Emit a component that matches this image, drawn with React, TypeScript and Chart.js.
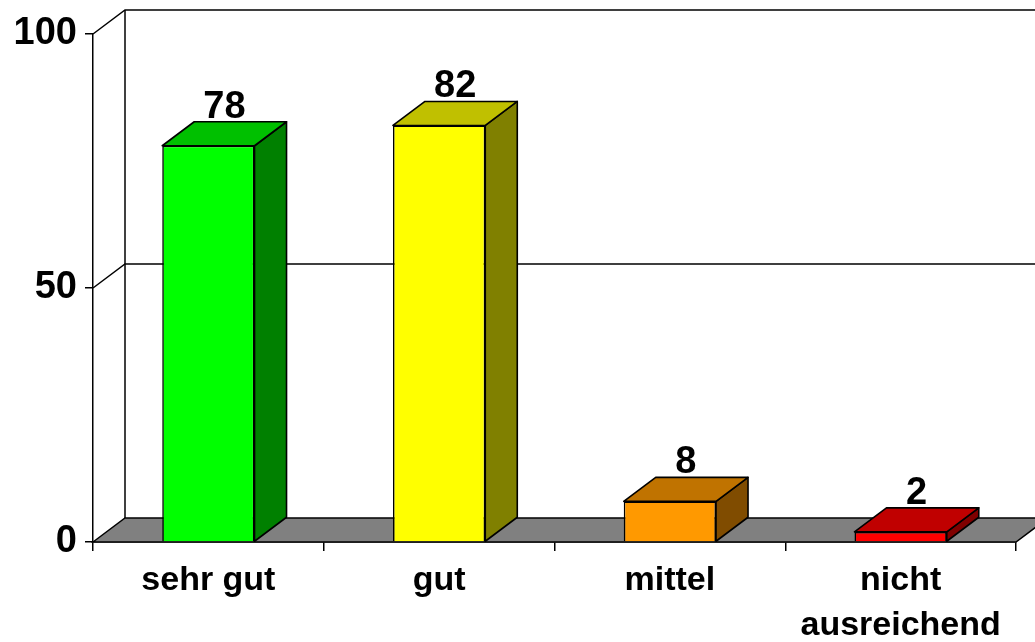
import React, { useEffect, useRef } from "react";
import { Chart, registerables } from "chart.js";

Chart.register(...registerables);

const categories: (string | string[])[] = ["sehr gut", "gut", "mittel", ["nicht", "ausreichend"]];
const values: number[] = [78, 82, 8, 2];
const frontColors: string[] = ["#00FF00", "#FFFF00", "#FF9900", "#FF0000"];
const topColors: string[] = ["#00C000", "#C0C000", "#C07300", "#C00000"];
const sideColors: string[] = ["#008000", "#808000", "#804C00", "#800000"];
const yTicks: number[] = [0, 50, 100];
const backGridValues: number[] = [50, 100];

const DX = 32;
const DY = 24;
const FONT = 'Arial, "Liberation Sans", sans-serif';

const threeD = {
  id: "threeD",
  beforeDatasetsDraw(chart: any) {
    const { ctx, chartArea, scales } = chart;
    const ys = scales.y;
    const L = chartArea.left;
    const R = chartArea.right;
    const B = ys.getPixelForValue(0);
    ctx.save();
    ctx.strokeStyle = "#000";
    ctx.lineWidth = 1.5;
    for (const v of backGridValues) {
      const py = ys.getPixelForValue(v);
      ctx.beginPath();
      ctx.moveTo(L, py);
      ctx.lineTo(L + DX, py - DY);
      ctx.lineTo(R + DX + 40, py - DY);
      ctx.stroke();
    }
    ctx.beginPath();
    ctx.moveTo(L + DX, ys.getPixelForValue(100) - DY);
    ctx.lineTo(L + DX, B - DY);
    ctx.stroke();
    // floor
    ctx.beginPath();
    ctx.moveTo(L, B);
    ctx.lineTo(L + DX, B - DY);
    ctx.lineTo(R + DX, B - DY);
    ctx.lineTo(R, B);
    ctx.closePath();
    ctx.fillStyle = "#808080";
    ctx.fill();
    ctx.stroke();
    ctx.restore();
  },
  afterDatasetsDraw(chart: any) {
    const { ctx } = chart;
    const meta = chart.getDatasetMeta(0);
    ctx.save();
    ctx.strokeStyle = "#000";
    ctx.lineWidth = 1.6;
    ctx.lineJoin = "round";
    meta.data.forEach((bar: any, i: number) => {
      const { x, y, width, base } = bar.getProps(["x", "y", "width", "base"], true);
      const l = x - width / 2;
      const r = x + width / 2;
      const poly = (pts: number[][], fill: string) => {
        ctx.beginPath();
        ctx.moveTo(pts[0][0], pts[0][1]);
        for (let k = 1; k < pts.length; k++) ctx.lineTo(pts[k][0], pts[k][1]);
        ctx.closePath();
        ctx.fillStyle = fill;
        ctx.fill();
        ctx.stroke();
      };
      poly([[r, y], [r + DX, y - DY], [r + DX, base - DY], [r, base]], sideColors[i]);
      poly([[l, y], [l + DX, y - DY], [r + DX, y - DY], [r, y]], topColors[i]);
      ctx.fillStyle = "#000";
      ctx.font = `bold 38px ${FONT}`;
      ctx.textAlign = "center";
      ctx.textBaseline = "alphabetic";
      ctx.fillText(String(values[i]), x + DX / 2, y - DY - 4);
    });
    ctx.restore();
  },
};

export default function App() {
  const ref = useRef<HTMLCanvasElement | null>(null);
  useEffect(() => {
    if (!ref.current) return;
    const chart = new Chart(ref.current, {
      type: "bar",
      data: {
        labels: categories,
        datasets: [
          {
            data: values,
            backgroundColor: frontColors,
            borderColor: "#000",
            borderWidth: 1.6,
            barPercentage: 0.4,
            categoryPercentage: 1,
          },
        ],
      },
      options: {
        animation: false,
        responsive: false,
        layout: { padding: { top: 34, right: 19, left: 0, bottom: 0 } },
        plugins: { legend: { display: false }, tooltip: { enabled: false } },
        scales: {
          x: {
            offset: true,
            grid: { display: true, offset: true, drawOnChartArea: false, drawTicks: true, tickLength: 9, color: "#000", lineWidth: 1.5 },
            border: { display: true, color: "#000", width: 1.5 },
            ticks: {
              color: "#000",
              font: { family: FONT, size: 34, weight: "bold", lineHeight: 1.33 },
              padding: 7,
              maxRotation: 0,
              autoSkip: false,
            },
            afterFit: (s: any) => {
              s.height = 100;
            },
          },
          y: {
            min: 0,
            max: 100,
            afterBuildTicks: (s: any) => {
              s.ticks = yTicks.map((v) => ({ value: v }));
            },
            grid: { display: true, drawOnChartArea: false, drawTicks: true, tickLength: 8, color: "#000", lineWidth: 1.5 },
            border: { display: true, color: "#000", width: 1.5 },
            ticks: {
              color: "#000",
              font: { family: FONT, size: 38, weight: "bold" },
              padding: 8,
            },
            afterFit: (s: any) => {
              s.width = 93;
            },
          },
        },
      },
      plugins: [threeD],
    });
    return () => chart.destroy();
  }, []);
  return (
    <div style={{ position: "absolute", left: 0, top: 0, width: 1035, height: 642, background: "#fff" }}>
      <canvas ref={ref} width={1035} height={642} />
    </div>
  );
}
